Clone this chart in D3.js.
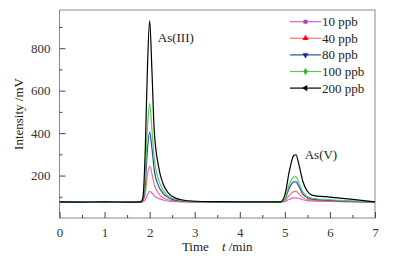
<!DOCTYPE html>
<html>
<head>
<meta charset="utf-8">
<script src="https://cdn.jsdelivr.net/npm/d3@7"></script>
<style>
  body { margin: 0; background: #fff; }
  text { font-family: "Liberation Serif", "DejaVu Serif", serif; }
</style>
</head>
<body>
<div id="chart"></div>
<script>
// retention time (min)
var times = [0, 0.5, 1, 1.5, 1.8, 1.85, 1.9, 1.95, 2.0, 2.05, 2.1, 2.2, 2.3, 2.4, 2.5, 2.7, 3, 3.5, 4, 4.5, 4.9, 5.0, 5.1, 5.2, 5.25, 5.3, 5.4, 5.5, 5.6, 6, 6.5, 7];

// intensity (mV) for each concentration
var ppb10  = [75, 74, 75, 74, 75, 77, 85, 108, 125, 118, 104, 92, 85, 80, 78, 76, 75, 75, 74, 75, 75, 77, 88, 95, 95, 93, 86, 82, 80, 78, 76, 75];
var ppb40  = [75, 75, 74, 75, 75, 80, 110, 200, 245, 210, 160, 115, 95, 86, 82, 78, 76, 75, 75, 75, 75, 80, 108, 124, 125, 116, 96, 87, 83, 80, 77, 75];
var ppb80  = [75, 74, 75, 75, 75, 85, 150, 320, 405, 330, 230, 150, 115, 98, 88, 80, 77, 75, 75, 74, 75, 88, 142, 170, 170, 153, 112, 96, 89, 83, 78, 75];
var ppb100 = [76, 75, 75, 75, 76, 90, 185, 420, 540, 420, 285, 180, 130, 105, 93, 83, 78, 76, 75, 75, 76, 90, 160, 194, 194, 170, 122, 101, 93, 86, 80, 75];
var ppb200 = [76, 75, 76, 75, 76, 95, 300, 700, 930, 700, 420, 240, 160, 122, 102, 86, 79, 77, 76, 76, 76, 108, 222, 295, 298, 262, 172, 126, 108, 98, 88, 76];

var seriesNames = ["10 ppb", "40 ppb", "80 ppb", "100 ppb", "200 ppb"];
var seriesValues = [ppb10, ppb40, ppb80, ppb100, ppb200];
var lineColors = ["#cc66cc", "#ff7070", "#2a4aa8", "#55cc55", "#000000"];
var markColors = ["#b040b0", "#ff0000", "#1030a0", "#22bb22", "#000000"];
var markTypes = [d3.symbolSquare, d3.symbolTriangle, d3.symbolTriangle, d3.symbolDiamond, d3.symbolTriangle];
var markRotate = [0, 0, 180, 0, -90];

var xTicks = [0, 1, 2, 3, 4, 5, 6, 7];
var yTicks = [200, 400, 600, 800];

var margin = {top: 10, right: 22, bottom: 43, left: 59.5},
    width = 397 - margin.left - margin.right,
    height = 261 - margin.top - margin.bottom;

var svg = d3.select("#chart")
  .append("svg")
    .attr("width", 397)
    .attr("height", 261)
  .append("g")
    .attr("transform", "translate(" + margin.left + "," + margin.top + ")");

var x = d3.scaleLinear().domain([0, 7]).range([0, width]);
var y = d3.scaleLinear().domain([0, 980]).range([height, 0]);

var axisColor = "#888";

// frame
svg.append("rect")
  .attr("width", width)
  .attr("height", height)
  .attr("fill", "none")
  .attr("stroke", axisColor)
  .attr("stroke-width", 1);

// minor ticks
svg.append("g")
  .attr("transform", "translate(0," + height + ")")
  .call(d3.axisBottom(x).tickValues(d3.range(0.5, 7, 1)).tickSize(-3).tickFormat(""))
  .call(function(g) { g.select(".domain").remove(); g.selectAll("line").attr("stroke", "#444"); });
svg.append("g")
  .call(d3.axisLeft(y).tickValues([100, 300, 500, 700, 900]).tickSize(-3).tickFormat(""))
  .call(function(g) { g.select(".domain").remove(); g.selectAll("line").attr("stroke", "#444"); });

// major axes
var xAxis = svg.append("g")
  .attr("transform", "translate(0," + height + ")")
  .call(d3.axisBottom(x).tickValues(xTicks).tickSize(-6).tickPadding(10).tickFormat(d3.format("d")));
var yAxis = svg.append("g")
  .call(d3.axisLeft(y).tickValues(yTicks).tickSize(-6).tickPadding(9));

[xAxis, yAxis].forEach(function(a) {
  a.select(".domain").remove();
  a.selectAll("line").attr("stroke", "#444");
  a.selectAll("text")
    .style("font-family", "Liberation Serif, serif")
    .style("font-size", "13px")
    .attr("fill", "#333");
});

// lines
var line = d3.line()
  .x(function(d) { return x(d.t); })
  .y(function(d) { return y(d.v); })
  .curve(d3.curveMonotoneX);

seriesValues.forEach(function(vals, i) {
  var pts = times.map(function(t, j) { return {t: t, v: vals[j]}; });
  svg.append("path")
    .datum(pts)
    .attr("fill", "none")
    .attr("stroke", lineColors[i])
    .attr("stroke-width", 1.2)
    .attr("d", line);
});

// peak labels
svg.append("text")
  .attr("x", x(2.18))
  .attr("y", y(830))
  .style("font-size", "13px")
  .attr("fill", "#222")
  .text("As(III)");
svg.append("text")
  .attr("x", x(5.44))
  .attr("y", y(278))
  .style("font-size", "13px")
  .attr("fill", "#222")
  .text("As(V)");

// legend
var legend = svg.append("g").attr("transform", "translate(" + (290 - margin.left) + "," + (21.7 - margin.top) + ")");
seriesNames.forEach(function(name, i) {
  var g = legend.append("g").attr("transform", "translate(0," + (i * 16.6) + ")");
  g.append("line")
    .attr("x1", 0).attr("x2", 31)
    .attr("stroke", lineColors[i])
    .attr("stroke-width", 1.2);
  g.append("path")
    .attr("d", d3.symbol().type(markTypes[i]).size(16))
    .attr("transform", "translate(15.5,0) rotate(" + markRotate[i] + ")")
    .attr("fill", markColors[i]);
  g.append("text")
    .attr("x", 32)
    .attr("dy", "0.35em")
    .style("font-size", "13px")
    .attr("fill", "#222")
    .text(name);
});

// axis titles
svg.append("text")
  .attr("transform", "rotate(-90)")
  .attr("x", -height / 2)
  .attr("y", -37)
  .attr("text-anchor", "middle")
  .style("font-size", "13px")
  .attr("fill", "#222")
  .text("Intensity /mV");

var xt = svg.append("text")
  .attr("x", width / 2)
  .attr("y", height + 33)
  .attr("text-anchor", "middle")
  .style("font-size", "13px")
  .attr("fill", "#222");
xt.append("tspan").text("Time\u00a0\u00a0\u00a0\u00a0");
xt.append("tspan").style("font-style", "italic").text("t");
xt.append("tspan").text(" /min");
</script>
</body>
</html>
